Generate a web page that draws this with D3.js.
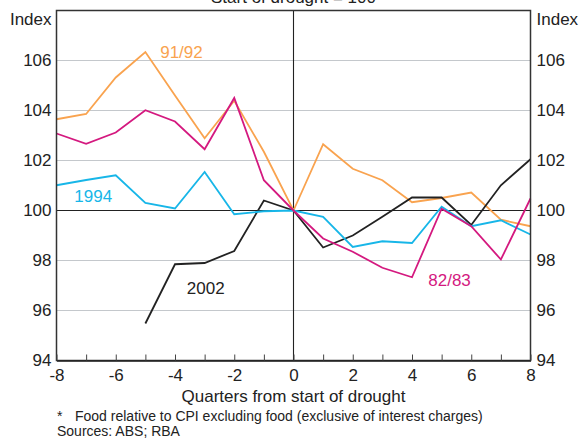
<!DOCTYPE html>
<html>
<head>
<meta charset="utf-8">
<script src="https://cdn.jsdelivr.net/npm/d3@7"></script>
<style>
  html, body { margin: 0; padding: 0; background: #fff; }
  svg { display: block; font-family: Arial, "Liberation Sans", sans-serif; }
</style>
</head>
<body>
<svg id="chart" width="581" height="438"></svg>
<script>
// ---- data ----
const quarters = [-8,-7,-6,-5,-4,-3,-2,-1,0,1,2,3,4,5,6,7,8];
const s8283 = [103.08,102.67,103.12,104.01,103.56,102.45,104.5,101.21,100,98.88,98.35,97.71,97.33,100.07,99.37,98.04,100.48];
const s9192 = [103.65,103.86,105.32,106.34,104.6,102.89,104.39,102.35,100,102.65,101.67,101.21,100.33,100.5,100.72,99.63,99.37];
const s1994 = [101.01,101.22,101.41,100.3,100.08,101.54,99.85,99.97,100,99.75,98.54,98.77,98.7,100.15,99.37,99.61,99.04];
const s2002 = [null,null,null,95.48,97.85,97.9,98.38,100.4,100,98.52,99.0,99.75,100.52,100.52,99.42,101.01,102.05];
const seriesNames = ["91/92","2002","1994","82/83"];
const seriesColors = ["#F9A34F","#222222","#17B6E8","#D4197F"];
const yTicks = [94,96,98,100,102,104,106];
const xTicks = [-8,-7,-6,-5,-4,-3,-2,-1,0,1,2,3,4,5,6,7,8];
const title = "Start of drought = 100";
const xTitle = "Quarters from start of drought";
const yUnit = "Index";
const footMark = "*";
const footnote = "Food relative to CPI excluding food (exclusive of interest charges)";
const sources = "Sources: ABS; RBA";

// ---- layout ----
const svg = d3.select("#chart");
const L = 56.5, R = 530.5, T = 10.5, B = 360.5;
const x = d3.scaleLinear().domain([-8, 8]).range([L, R]);
const y = d3.scaleLinear().domain([94, 108]).range([B, T]);
const fs = 17;

// gridlines
svg.append("g").selectAll("line").data(yTicks.filter(d => d !== 94 && d !== 100)).join("line")
  .attr("x1", L).attr("x2", R).attr("y1", d => y(d)).attr("y2", d => y(d))
  .attr("stroke", "#c4c8cc").attr("stroke-width", 1.2);
// 100 line
svg.append("line").attr("x1", L).attr("x2", R).attr("y1", y(100)).attr("y2", y(100))
  .attr("stroke", "#222").attr("stroke-width", 1.2);
// zero vertical
svg.append("line").attr("x1", x(0)).attr("x2", x(0)).attr("y1", T).attr("y2", B)
  .attr("stroke", "#222").attr("stroke-width", 1.1);

// series lines
const allSeries = [s9192, s2002, s1994, s8283];
const line = d3.line()
  .defined(d => d.v !== null)
  .x(d => x(d.q)).y(d => y(d.v));
allSeries.forEach((s, i) => {
  svg.append("path")
    .datum(quarters.map((q, j) => ({q, v: s[j]})))
    .attr("fill", "none")
    .attr("stroke", seriesColors[i])
    .attr("stroke-width", 1.8)
    .attr("stroke-linejoin", "miter")
    .attr("d", line);
});

// frame
svg.append("rect").attr("x", L).attr("y", T).attr("width", R - L).attr("height", B - T)
  .attr("fill", "none").attr("stroke", "#333").attr("stroke-width", 1.5);

// x axis
const xAxis = d3.axisBottom(x).tickValues(xTicks)
  .tickSizeInner(-6).tickSizeOuter(0).tickPadding(8)
  .tickFormat(d => d % 2 === 0 ? String(d) : "");
const gx = svg.append("g").attr("transform", `translate(0,${B})`).call(xAxis);
gx.select(".domain").attr("stroke", "#222").attr("stroke-width", 1.5);
gx.selectAll(".tick line").attr("stroke", "#444").attr("stroke-width", 1);
gx.selectAll("text").attr("font-size", fs).attr("fill", "#222").attr("font-family", "Arial, 'Liberation Sans', sans-serif");

// y axes
const yL = d3.axisLeft(y).tickValues(yTicks).tickSize(0).tickPadding(5);
const gyl = svg.append("g").attr("transform", `translate(${L},0)`).call(yL);
gyl.select(".domain").remove();
gyl.selectAll("text").attr("font-size", fs).attr("fill", "#222").attr("font-family", "Arial, 'Liberation Sans', sans-serif");
const yR = d3.axisRight(y).tickValues(yTicks).tickSize(0).tickPadding(6);
const gyr = svg.append("g").attr("transform", `translate(${R},0)`).call(yR);
gyr.select(".domain").remove();
gyr.selectAll("text").attr("font-size", fs).attr("fill", "#222").attr("font-family", "Arial, 'Liberation Sans', sans-serif");

// unit labels
svg.append("text").attr("x", L - 5).attr("y", 25).attr("text-anchor", "end")
  .attr("font-size", fs).attr("fill", "#222").text(yUnit);
svg.append("text").attr("x", R + 6).attr("y", 25).attr("text-anchor", "start")
  .attr("font-size", fs).attr("fill", "#222").text(yUnit);

// title (partially cut at top, as in the reference)
svg.append("text").attr("x", x(0)).attr("y", 3).attr("text-anchor", "middle")
  .attr("font-size", fs).attr("fill", "#222").text(title);

// x title
svg.append("text").attr("x", x(0)).attr("y", 402).attr("text-anchor", "middle")
  .attr("font-size", fs).attr("fill", "#222").text(xTitle);

// footnotes
svg.append("text").attr("x", 57).attr("y", 421).attr("font-size", 14).attr("fill", "#222").text(footMark);
svg.append("text").attr("x", 75).attr("y", 421).attr("font-size", 14).attr("fill", "#222").text(footnote);
svg.append("text").attr("x", 57).attr("y", 436).attr("font-size", 14).attr("fill", "#222").text(sources);

// series labels
const labelPos = [
  {name: "91/92", qx: -4.5, vy: 106.1, anchor: "start"},
  {name: "2002", qx: -3.6, vy: 96.66, anchor: "start"},
  {name: "1994", qx: -7.4, vy: 100.33, anchor: "start"},
  {name: "82/83", qx: 4.55, vy: 97.0, anchor: "start"}
];
labelPos.forEach(p => {
  const i = seriesNames.indexOf(p.name);
  svg.append("text").attr("x", x(p.qx)).attr("y", y(p.vy)).attr("text-anchor", p.anchor)
    .attr("font-size", fs).attr("fill", seriesColors[i]).text(p.name);
});
</script>
</body>
</html>
